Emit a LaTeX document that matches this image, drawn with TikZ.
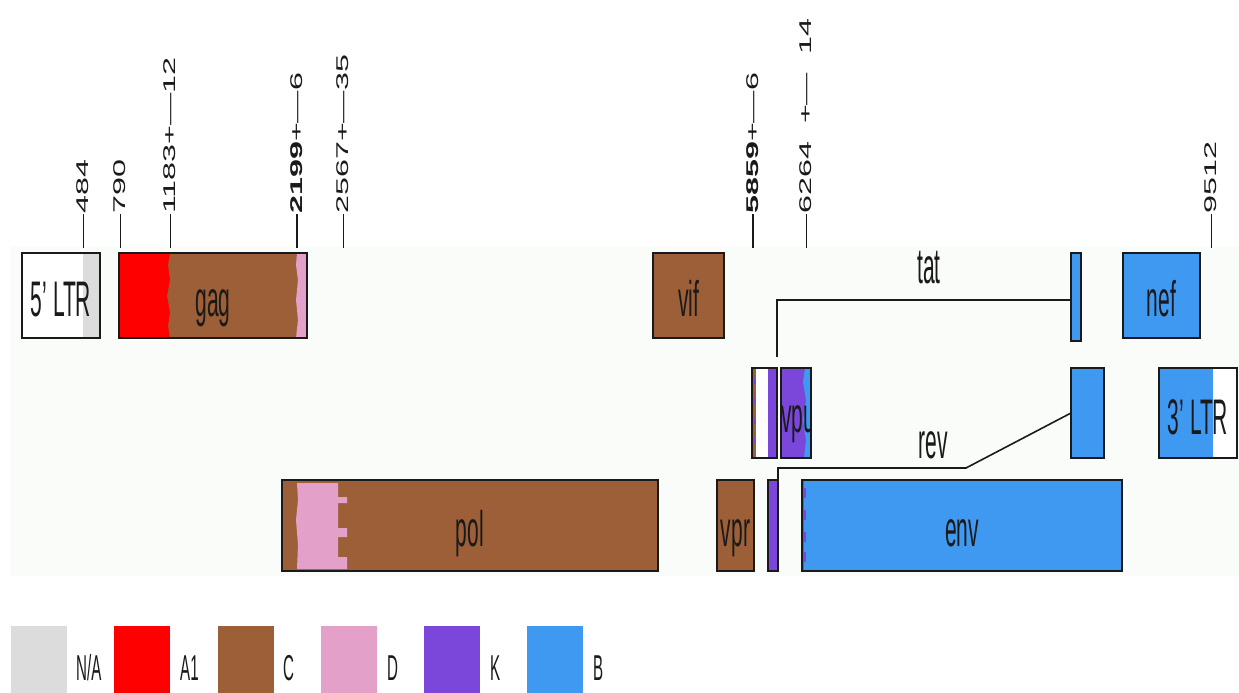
\documentclass[tikz,border=0pt]{standalone}
\usepackage{fontspec}
\setmainfont{Liberation Sans}
\newfontfamily\cnd[FakeStretch=0.42]{Liberation Sans}
\newfontfamily\tkf[FakeStretch=1.9]{Liberation Sans}
\definecolor{cNA}{HTML}{DCDCDC}
\definecolor{cA}{HTML}{FF0000}
\definecolor{cC}{HTML}{9C5F38}
\definecolor{cD}{HTML}{E3A1C9}
\definecolor{cK}{HTML}{7B47DB}
\definecolor{cB}{HTML}{3F99F0}
\definecolor{band}{HTML}{FAFCFA}
\definecolor{ink}{HTML}{1A1A1A}
\tikzset{
  gene/.style={draw=ink, line width=1.5pt, inner sep=0pt, outer sep=0pt, rectangle,
    font=\cnd\fontsize{50}{50}\selectfont, text=ink, text height=42pt, text depth=0pt},
  genelabel/.style={inner sep=0pt, font=\cnd\fontsize{50}{50}\selectfont, text=ink},
  ticklabel/.style={rotate=90, anchor=west, inner sep=0pt, font=\tkf\fontsize{17}{17}\selectfont, text=ink},
  tickline/.style={draw=ink, line width=1pt},
  boldtick/.style={draw=ink, line width=2.2pt},
  conn/.style={draw=ink, line width=1.6pt},
  legbox/.style={inner sep=0pt, outer sep=0pt, minimum width=56pt, minimum height=67pt},
  legtext/.style={anchor=west, inner sep=0pt, font=\cnd\fontsize{36}{36}\selectfont, text=ink}
}
\begin{document}
\begin{tikzpicture}[x=1pt,y=-1pt]
\useasboundingbox (0,0) rectangle (1239,693);
\fill[white] (0,0) rectangle (1239,693);
\fill[band] (10,246) rectangle (1239,576);

% ---------- colour fills ----------
% 5' LTR
\fill[white] (22,253) rectangle (83,338);
\fill[cNA] (83,253) rectangle (100,338);
% gag
\fill[cC] (119,253) rectangle (307,338);
\fill[cA] (119,253) -- (170,253) -- (168,265) -- (170,280) -- (167,296) -- (170,312) -- (168,326) -- (170,338) -- (119,338) -- cycle;
\fill[cD] (297,253) -- (307,253) -- (307,338) -- (296,338) -- (298,320) -- (296,300) -- (298,280) -- (296,265) -- cycle;
% vif, nef, tat exon 2
\fill[cC] (653,253) rectangle (724,338);
\fill[cB] (1123,253) rectangle (1200,338);
\fill[cB] (1071,253) rectangle (1081,341);
% row 2
\fill[white] (752,368) rectangle (777,458);
\fill[cC] (752,368) rectangle (756,458);
\foreach \yy in {378,398,418,438} \fill[cK] (754,\yy) rectangle (756,\yy+6);
\fill[cK] (768,368) rectangle (777,458);
\fill[cK] (781,368) rectangle (811,458);
\fill[cB] (805,368) -- (811,368) -- (811,458) -- (804,458) -- (806,440) -- (803,420) -- (806,400) -- (803,382) -- cycle;
\fill[cB] (1071,368) rectangle (1104,458);
\fill[cB] (1159,368) rectangle (1213,458);
\fill[white] (1213,368) rectangle (1237,458);
% row 3
\fill[cC] (282,480) rectangle (658,571);
\fill[cD] (297,483) -- (338,483) -- (338,497) -- (347,497) -- (347,503) -- (338,503) -- (338,528) -- (347,528) -- (347,537) -- (338,537) -- (338,557) -- (347,557) -- (347,569) -- (297,569) -- (298,545) -- (296,520) -- (298,500) -- cycle;
\fill[cC] (717,480) rectangle (754,571);
\fill[cK] (768,480) rectangle (778,571);
\fill[cB] (802,480) rectangle (1122,571);
\foreach \yy in {488,510,532,552} \fill[cK] (802,\yy) rectangle (806,\yy+10);
\fill[cK] (802,480) rectangle (804,571);

% ---------- gene boxes ----------
\node[gene, minimum width=78pt, minimum height=85pt] (ltr5) at (61,295.5) {5’ LTR};
\node[gene, minimum width=188pt, minimum height=85pt] (gag) at (213,295.5) {gag};
\node[gene, minimum width=71pt, minimum height=85pt] (vif) at (688.5,295.5) {vif};
\node[gene, minimum width=10pt, minimum height=88pt] (tat2) at (1076,297) {};
\node[gene, minimum width=77pt, minimum height=85pt] (nef) at (1161.5,295.5) {nef};

\node[gene, minimum width=25pt, minimum height=90pt] (vpuA) at (764.5,413) {};
\node[gene, minimum width=30pt, minimum height=90pt] (vpu) at (796,413) {};
\begin{scope}
\clip (781,368) rectangle (811,458);
\node[genelabel, anchor=base west] (vputext) at (781,432) {vpu};
\end{scope}
\node[gene, minimum width=33pt, minimum height=90pt] (rev2) at (1087.5,413) {};
\node[gene, minimum width=78pt, minimum height=90pt] (ltr3) at (1198,413) {3’ LTR};

\node[gene, minimum width=376pt, minimum height=91pt] (pol) at (470,525.5) {pol};
\node[gene, minimum width=37pt, minimum height=91pt] (vpr) at (735.5,525.5) {vpr};
\node[gene, minimum width=10pt, minimum height=91pt] (tr1) at (773,525.5) {};
\node[gene, minimum width=320pt, minimum height=91pt] (env) at (962,525.5) {env};

% ---------- splicing connectors ----------
\coordinate (tatstart) at (777,357);
\draw[conn] (tatstart) -- (777,300) -- (tat2.west |- 0,300);
\node[genelabel] (tatlabel) at (929,268) {tat};
\draw[conn] (tr1.north east) -- (778,468) -- (966,468) -- (rev2.west);
\node[genelabel] (revlabel) at (933,445) {rev};

% ---------- position ticks ----------
\foreach \nm/\xx/\txt in {t484/83/484, t790/120/790, t1183/170/1183+—12, t2567/343/2567+—35, t6264/806/6264\hskip 18pt+—\hskip 18pt14, t9512/1211/9512}{
  \coordinate (\nm b) at (\xx,248);
  \node[ticklabel] (\nm) at (\xx,214) {\txt};
  \draw[tickline] (\nm b) -- (\nm.west);
}
\foreach \nm/\xx/\num in {t2199/297/2199, t5859/753/5859}{
  \coordinate (\nm b) at (\xx,248);
  \node[ticklabel] (\nm) at (\xx,214) {{\bfseries\num}+—6};
  \draw[boldtick] (\nm b) -- (\nm.west);
}

% ---------- legend ----------
\node[legbox, fill=cNA] (lNA) at (39,659.5) {};
\node[legtext] (lNAt) at (76,668) {N/A};
\node[legbox, fill=cA] (lA) at (142,659.5) {};
\node[legtext] (lAt) at (180,668) {A1};
\node[legbox, fill=cC] (lC) at (245.5,659.5) {};
\node[legtext] (lCt) at (283,668) {C};
\node[legbox, fill=cD] (lD) at (348.5,659.5) {};
\node[legtext] (lDt) at (387,668) {D};
\node[legbox, fill=cK] (lK) at (452,659.5) {};
\node[legtext] (lKt) at (490,668) {K};
\node[legbox, fill=cB] (lB) at (555,659.5) {};
\node[legtext] (lBt) at (593,668) {B};
\end{tikzpicture}
\end{document}
